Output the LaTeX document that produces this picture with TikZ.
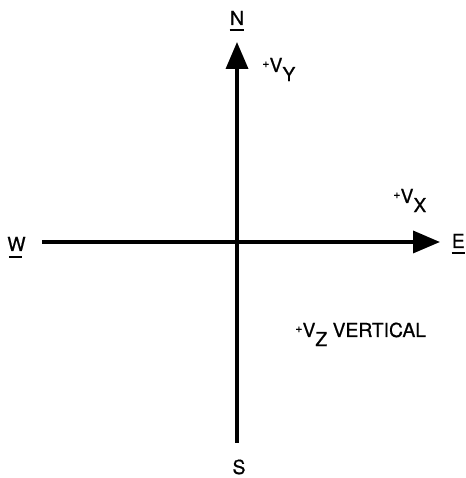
\documentclass[tikz,border=0pt]{standalone}
\usepackage{fontspec}
\setmainfont{TeX Gyre Heros}
\newfontfamily\labfont{TeX Gyre Heros}[FakeBold=0.7]
\usetikzlibrary{arrows.meta}

\begin{document}
\begin{tikzpicture}[every node/.style={font=\labfont\fontsize{11}{13}\selectfont, inner sep=0pt},
	axis/.style={line width=2pt, -{Triangle[length=0.54cm, width=0.44cm]}},
	under/.style={line width=0.9pt}]
	\useasboundingbox (0,0) rectangle (9.3,9.56);
	% ends of the axes
	\coordinate (sEnd) at (4.74,0.70);
	\coordinate (nTip) at (4.74,8.72);
	\coordinate (wEnd) at (0.84,4.72);
	\coordinate (eTip) at (8.80,4.72);
	\draw[axis] (sEnd) -- (nTip);
	\draw[axis] (wEnd) -- (eTip);
	% compass points
	\node[anchor=base] (labN) at (4.74,9.06) {N};
	\node[anchor=base] (labS) at (4.78,0.08) {S};
	\node[anchor=base west] (labW) at (0.14,4.54) {W};
	\node[anchor=base west] (labE) at (9.03,4.60) {E};
	\draw[under] ([yshift=-3pt]labN.base west) -- ([yshift=-3pt]labN.base east);
	\draw[under] ([xshift=1pt,yshift=-3.5pt]labW.base west) -- ([xshift=-2pt,yshift=-3.5pt]labW.base east);
	\draw[under] ([yshift=-3pt]labE.base west) -- ([yshift=-3pt]labE.base east);
	% velocity components
	\node[anchor=base west] (velY) at (5.24,8.12) {\raisebox{.45ex}{\scriptsize+}V\raisebox{-.9ex}{Y}};
	\node[anchor=base west] (velX) at (7.86,5.50) {\raisebox{.45ex}{\scriptsize+}V\raisebox{-.9ex}{X}};
	\node[anchor=base west] (velZ) at (5.90,2.82) {\raisebox{.45ex}{\scriptsize+}V\raisebox{-.9ex}{Z} VERTICAL};
\end{tikzpicture}
\end{document}
